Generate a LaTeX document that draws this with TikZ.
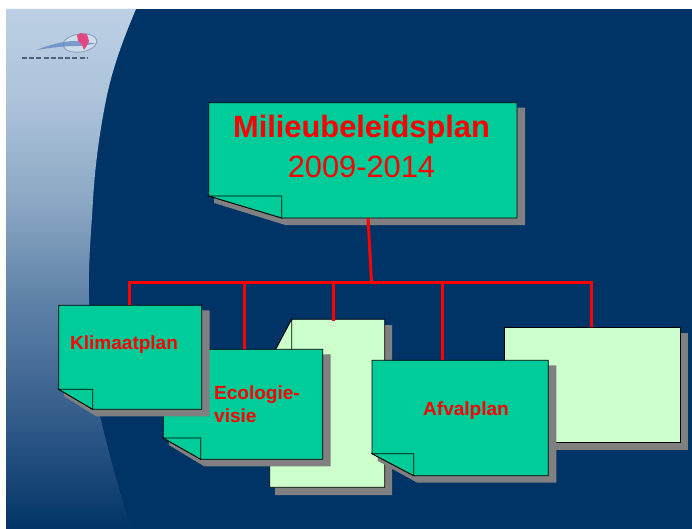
\documentclass[tikz,border=0pt]{standalone}
\usepackage{fontspec}
\setmainfont{Liberation Sans}
\definecolor{deepblue}{HTML}{003366}
\definecolor{notegreen}{HTML}{00CC99}
\definecolor{notelight}{HTML}{CCFFCC}
\definecolor{shadowgray}{HTML}{808080}
\definecolor{fadeA}{HTML}{BDD0E5}
\definecolor{fadeB}{HTML}{ACC3DA}
\definecolor{fadeC}{HTML}{8CA8C4}
\definecolor{fadeD}{HTML}{5F82A8}
\definecolor{fadeE}{HTML}{3A628F}
\definecolor{fadeF}{HTML}{0F3F70}
\definecolor{logopink}{HTML}{E04A80}
\definecolor{logoblue}{HTML}{5C86C0}
\definecolor{logoring}{HTML}{7F94B5}
\definecolor{logodash}{HTML}{2C3E5C}
\pgfdeclareverticalshading{leftfade}{100bp}{
  color(0bp)=(deepblue);
  color(25bp)=(deepblue);
  color(27.8bp)=(fadeF);
  color(37.4bp)=(fadeE);
  color(47bp)=(fadeD);
  color(56.6bp)=(fadeC);
  color(66.25bp)=(fadeB);
  color(75bp)=(fadeA);
  color(100bp)=(fadeA)}
\tikzset{
  outline/.style={draw=black,line width=0.8pt,line join=miter},
  shadowfill/.style={fill=shadowgray,draw=none},
  wire/.style={draw=red,line width=3pt,line join=miter},
  boxname/.style={inner sep=0pt,outer sep=0pt,draw=none},
  heading/.style={text=red,font=\bfseries\fontsize{30.8}{32}\selectfont,anchor=base,inner sep=0pt},
  years/.style={text=red,font=\fontsize{30.8}{32}\selectfont,anchor=base,inner sep=0pt},
  sublabel/.style={text=red,font=\bfseries\fontsize{19}{21}\selectfont,anchor=base west,inner sep=0pt}
}
% name, left, top, right, bottom, fold x, fold y
\newcommand{\foldnote}[7]{%
  \path[shadowfill] (#2+5.5,#7+7) -- (#6+3.5,#5+7) -- (#4+8,#5+7) -- (#4+8,#3+5) -- (#2+5.5,#3+5) -- cycle;
  \path[outline,fill=notegreen] (#2,#3) -- (#4,#3) -- (#4,#5) -- (#6,#5) -- (#2,#7) -- cycle;
  \path[outline,fill=notegreen] (#2,#7) -- (#6,#7) -- (#6,#5) -- cycle;
  \node[boxname,minimum width={(#4-#2)*1pt},minimum height={(#5-#3)*1pt}] (#1) at ({(#2+#4)/2},{(#3+#5)/2}) {};%
}
\begin{document}
\begin{tikzpicture}[x=1pt,y=-1pt]
\useasboundingbox (0,0) rectangle (692,529);
\fill[white] (0,0) rectangle (692,529);
\fill[deepblue] (6,9) rectangle (692,529);
% light panel on the left
\path[shading=leftfade] (6,9) -- (136,9)
  .. controls (122,42) and (112,70) .. (106,100)
  .. controls (100,130) and (95,165) .. (93,200)
  .. controls (91,235) and (88,265) .. (89,300)
  .. controls (90,340) and (93,385) .. (100,416)
  .. controls (108,450) and (120,495) .. (132,529)
  -- (6,529) -- cycle;
% logo
\fill[white,opacity=0.35,rotate around={8:(80,43)}] (80,43) ellipse (17 and 9);
\draw[color=logoring,line width=0.9pt,opacity=0.8,rotate around={8:(80,43)}] (80,43) ellipse (17 and 9);
\fill[logoblue,opacity=0.75] (36,50) .. controls (50,45) and (62,41) .. (76,41) -- (96,43.5) -- (80,46) .. controls (62,46) and (50,48) .. (36,50) -- cycle;
\fill[logopink] (77,35) -- (81,33) -- (87,34.5) -- (89,41) -- (86,47) -- (84,50) -- (82,45) -- (78,41) -- cycle;
\draw[color=logodash,line width=2pt,dash pattern=on 5pt off 2.2pt,opacity=0.75] (22,58) -- (87,58);
% light boxes
\path[shadowfill] (297,325) -- (392,325) -- (392,495) -- (275,495) -- (275,366) -- cycle;
\path[outline,fill=notelight] (291.7,319.3) -- (384.7,319.3) -- (384.7,487.3) -- (269.7,487.3) -- (269.7,360.6) -- cycle;
\path[outline,fill=notelight] (291.7,319.3) -- (291.7,360.6) -- (269.7,360.6) -- cycle;
\node[boxname,minimum width=115pt,minimum height=168pt] (natuur) at (327.2,403.3) {};
\path[shadowfill] (510,333) rectangle (688,450);
\path[outline,fill=notelight] (504,327.3) rectangle (680.3,442.7);
\node[boxname,minimum width=176.3pt,minimum height=115.4pt] (overig) at (592.15,385) {};
% green notes
\foldnote{ecologie}{163.3}{349.3}{322.7}{459.3}{200.7}{438}
\foldnote{klimaat}{58.7}{305.3}{201.7}{409.3}{92.7}{389.3}
\foldnote{afval}{372}{360.3}{548.3}{475.7}{413.7}{453.7}
\foldnote{main}{208.7}{102.7}{517}{218}{281.7}{196}
% connectors
\coordinate (busL) at (129.5,282);
\coordinate (busE) at (244.3,282);
\coordinate (busN) at (333.5,282);
\coordinate (busJ) at (371.5,282);
\coordinate (busA) at (442.3,282);
\coordinate (busR) at (591,282);
\coordinate (trunk) at (368,218);
\draw[wire] (klimaat.north -| busL) -- (busL) -- (busR) -- (overig.north -| busR);
\draw[wire] (trunk |- main.south) -- (busJ);
\draw[wire,line width=2.6pt] (busE) -- (ecologie.north -| busE);
\draw[wire] (busN) -- ([yshift=-1.7pt]natuur.north -| busN);
\draw[wire,line width=2.6pt] (busA) -- (afval.north -| busA);
% texts
\node[heading] (t1) at (361.5,137.7) {Milieubeleidsplan};
\node[years] (t2) at (361.5,178) {2009-2014};
\node[sublabel] (t3) at (70,349) {Klimaatplan};
\node[sublabel] (t4) at (214,399) {Ecologie-};
\node[sublabel] (t5) at (214,422) {visie};
\node[sublabel] (t6) at (423,415) {Afvalplan};
\end{tikzpicture}
\end{document}
